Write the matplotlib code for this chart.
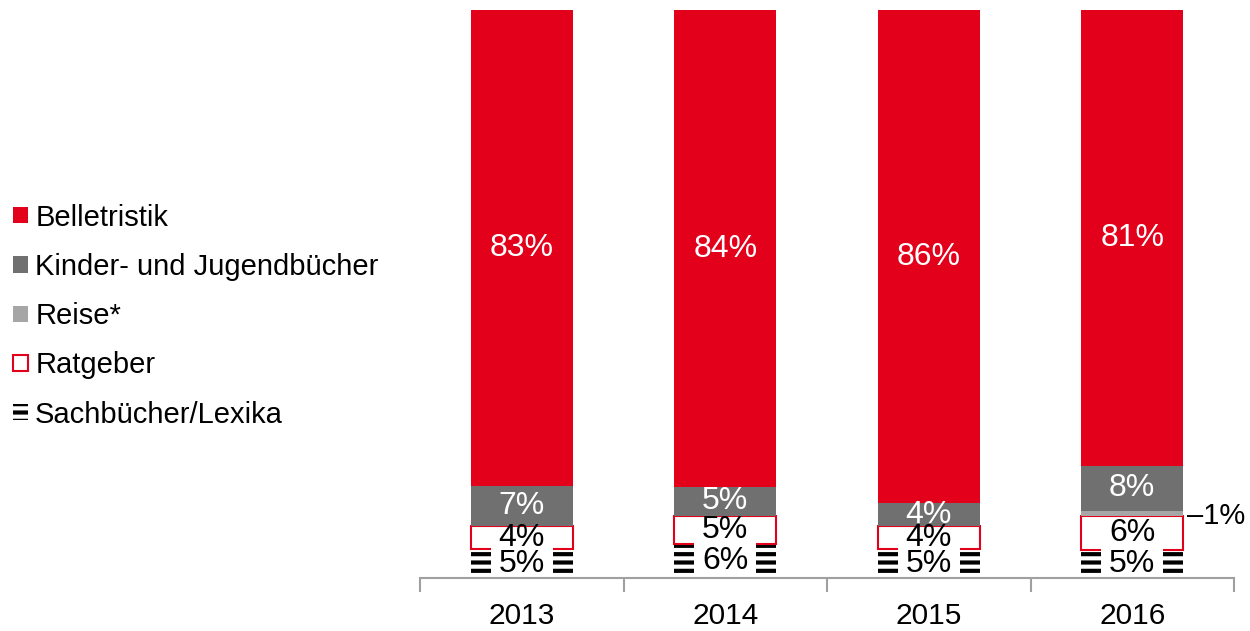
import matplotlib
matplotlib.use("Agg")
import matplotlib.pyplot as plt
import numpy as np

plt.rcParams['font.family'] = ['Liberation Sans', 'DejaVu Sans']
plt.rcParams['hatch.linewidth'] = 3.0

years = ["2013", "2014", "2015", "2016"]
sachbuecher = [5, 6, 5, 5]
ratgeber = [4, 5, 4, 6]
reise = [0, 0, 0, 1]
kinder = [7, 5, 4, 8]
belletristik = [83, 84, 86, 81]

series = [
    ("Sachbücher/Lexika", sachbuecher),
    ("Ratgeber", ratgeber),
    ("Reise*", reise),
    ("Kinder- und Jugendbücher", kinder),
    ("Belletristik", belletristik),
]
RED = "#E2001A"
DARK = "#707070"
LIGHT = "#A6A6A6"
styles = {
    "Sachbücher/Lexika": dict(facecolor="white", edgecolor="black", hatch="--", linewidth=0),
    "Ratgeber": dict(facecolor="white", edgecolor=RED, linewidth=1.5),
    "Reise*": dict(facecolor=LIGHT, edgecolor="none", linewidth=0),
    "Kinder- und Jugendbücher": dict(facecolor=DARK, edgecolor="none", linewidth=0),
    "Belletristik": dict(facecolor=RED, edgecolor="none", linewidth=0),
}
label_color = {
    "Sachbücher/Lexika": "black",
    "Ratgeber": "black",
    "Reise*": "black",
    "Kinder- und Jugendbücher": "white",
    "Belletristik": "white",
}

fig = plt.figure(figsize=(12.5, 6.31), dpi=100)
ax = fig.add_axes([0.336, 0.084, 0.6512, 0.9002])

x = np.arange(len(years))
totals = np.sum([np.array(v, dtype=float) for _, v in series], axis=0)
width = 0.5
bottom = np.zeros(len(years))
handles = {}
LFS = 23
for name, vals in series:
    v = np.array(vals, dtype=float)
    h = v / totals * 100.0
    bars = ax.bar(x, h, width, bottom=bottom, label=name, zorder=1, **styles[name])
    handles[name] = bars
    for i in range(len(years)):
        if vals[i] == 0:
            continue
        yc = bottom[i] + h[i] / 2
        if name == "Reise*":
            ax.text(x[i] + width / 2 + 0.02, yc - 0.5, f"–{vals[i]}%", ha="left", va="center",
                    fontsize=21, color="black", zorder=3)
        elif name == "Sachbücher/Lexika":
            ax.text(x[i], yc, f"{vals[i]}%", ha="center", va="center", fontsize=LFS,
                    color="black", zorder=2.2, clip_on=True,
                    bbox=dict(boxstyle="square,pad=0.25", facecolor="white", edgecolor="none"))
        else:
            ax.text(x[i], yc, f"{vals[i]}%", ha="center", va="center", fontsize=LFS,
                    color=label_color[name], zorder=3)
    bottom += h

ax.set_xlim(-0.5, len(years) - 0.5)
ax.set_ylim(0, 100)
ax.set_yticks([])
for s in ["top", "right", "left"]:
    ax.spines[s].set_visible(False)
ax.spines["bottom"].set_color("#A0A0A0")
ax.spines["bottom"].set_linewidth(1.5)
ax.spines["bottom"].set_zorder(2.5)
ax.set_xticks(x)
ax.set_xticklabels(years, fontsize=21.5)
ax.tick_params(axis="x", which="major", length=0, pad=17)
ax.set_xticks(np.arange(-0.5, len(years), 1.0), minor=True)
ax.tick_params(axis="x", which="minor", length=10, width=1.5, color="#A0A0A0", direction="out")

order = ["Belletristik", "Kinder- und Jugendbücher", "Reise*", "Ratgeber", "Sachbücher/Lexika"]
leg = fig.legend([handles[n] for n in order], order, loc="center left",
                 bbox_to_anchor=(0.0104, 0.499), frameon=False, fontsize=21,
                 handlelength=0.52, handleheight=0.48, handletextpad=0.24,
                 labelspacing=0.73, borderpad=0, borderaxespad=0)

fig.savefig("out.png", dpi=100)
